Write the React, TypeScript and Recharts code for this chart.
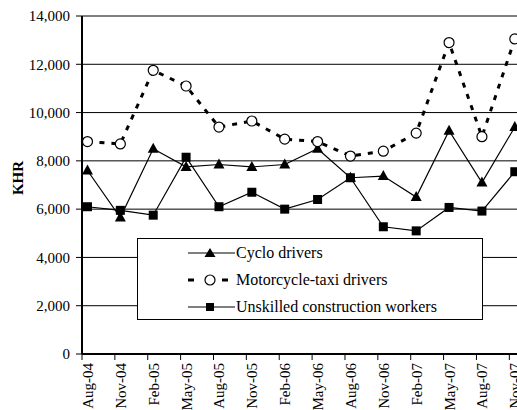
import { LineChart, Line, XAxis, YAxis, CartesianGrid, Legend } from "recharts";

const periods = [
  "Aug-04", "Nov-04", "Feb-05", "May-05", "Aug-05", "Nov-05", "Feb-06",
  "May-06", "Aug-06", "Nov-06", "Feb-07", "May-07", "Aug-07", "Nov-07",
];
const cyclo = [7600, 5650, 8500, 7750, 7850, 7750, 7850, 8500, 7300, 7370, 6500, 9250, 7100, 9400];
const motoTaxi = [8800, 8700, 11750, 11100, 9400, 9650, 8900, 8800, 8200, 8400, 9150, 12900, 9000, 13050];
const construction = [6100, 5950, 5750, 8150, 6100, 6700, 6000, 6400, 7300, 5270, 5100, 6070, 5920, 7550];
const yTicks = [0, 2000, 4000, 6000, 8000, 10000, 12000, 14000];

// months since Aug-04; surveys taken mid-month
const monthTicks = periods.map((_, i) => i * 3);
const data = periods.map((p, i) => ({
  period: p,
  m: i * 3 + 0.5,
  cyclo: cyclo[i],
  moto: motoTaxi[i],
  construction: construction[i],
}));

const serif = "'Liberation Serif', 'Times New Roman', serif";

const TriangleDot = (p: any) => (
  <path
    key={`t-${p.index}`}
    d={`M${p.cx},${p.cy - 6} L${p.cx + 5.5},${p.cy + 4} L${p.cx - 5.5},${p.cy + 4} Z`}
    fill="#000"
  />
);

const SquareDot = (p: any) => (
  <rect key={`s-${p.index}`} x={p.cx - 4.5} y={p.cy - 4.5} width={9} height={9} fill="#000" />
);

const CircleDot = (p: any) => (
  <circle key={`c-${p.index}`} cx={p.cx} cy={p.cy} r={5} fill="#fff" stroke="#000" strokeWidth={1.2} />
);

const MonthTick = ({ x, y, payload }: any) => (
  <text
    x={0}
    y={0}
    transform={`translate(${x + 11},${y + 1}) rotate(-90)`}
    textAnchor="end"
    fontSize={15}
    fontFamily={serif}
    fill="#000"
  >
    {periods[payload.value / 3]}
  </text>
);

const legendRows = [
  { label: "Cyclo drivers", kind: "tri" },
  { label: "Motorcycle-taxi drivers", kind: "circle" },
  { label: "Unskilled construction workers", kind: "square" },
];

const LegendIcon = ({ kind }: { kind: string }) => (
  <svg width={48} height={14} style={{ display: "block" }}>
    {kind === "circle" ? (
      <>
        <rect x={0} y={5.5} width={6} height={3} fill="#000" />
        <rect x={34} y={5.5} width={6} height={3} fill="#000" />
        <circle cx={22} cy={7} r={5} fill="#fff" stroke="#000" strokeWidth={1.2} />
      </>
    ) : (
      <>
        <line x1={0} y1={7} x2={47} y2={7} stroke="#000" strokeWidth={1.2} />
        {kind === "tri" ? (
          <path d="M22,2 L27.5,11 L16.5,11 Z" fill="#000" />
        ) : (
          <rect x={18} y={3} width={8} height={8} fill="#000" />
        )}
      </>
    )}
  </svg>
);

const LegendBox = () => (
  <div
    style={{
      boxSizing: "border-box",
      width: 346,
      height: 82,
      border: "1px solid #000",
      background: "#fff",
      paddingLeft: 50,
      fontFamily: serif,
      fontSize: 16,
      color: "#000",
    }}
  >
    {legendRows.map((r) => (
      <div key={r.label} style={{ display: "flex", alignItems: "center", height: 27.3 }}>
        <LegendIcon kind={r.kind} />
        <span>{r.label}</span>
      </div>
    ))}
  </div>
);

export default function App() {
  return (
    <div style={{ position: "absolute", left: 0, top: 0, width: 517, height: 410, background: "#fff" }}>
      <LineChart width={517} height={410} data={data} margin={{ top: 16, right: 0, bottom: 0, left: 0 }}>
        <CartesianGrid vertical={false} stroke="#000" strokeWidth={1} />
        <XAxis
          type="number"
          dataKey="m"
          domain={[0, 39.7]}
          ticks={monthTicks}
          allowDataOverflow
          height={56}
          tickSize={6}
          axisLine={{ stroke: "#000", strokeWidth: 2 }}
          tickLine={{ stroke: "#000" }}
          tick={<MonthTick />}
          interval={0}
        />
        <YAxis
          domain={[0, 14000]}
          ticks={yTicks}
          width={82}
          tickSize={6}
          tickMargin={6}
          axisLine={{ stroke: "#000", strokeWidth: 2 }}
          tickLine={{ stroke: "#000" }}
          tick={{ fill: "#000", fontSize: 15, fontFamily: serif }}
          tickFormatter={(v: number) => v.toLocaleString("en-US")}
        />
        <Legend
          layout="vertical"
          align="center"
          verticalAlign="middle"
          wrapperStyle={{ left: 137, top: 238, width: 346, height: 82 }}
          content={() => <LegendBox />}
        />
        <Line
          dataKey="cyclo"
          stroke="#000"
          strokeWidth={1.2}
          dot={TriangleDot}
          isAnimationActive={false}
        />
        <Line
          dataKey="moto"
          stroke="#000"
          strokeWidth={3}
          strokeDasharray="5 7"
          dot={CircleDot}
          isAnimationActive={false}
        />
        <Line
          dataKey="construction"
          stroke="#000"
          strokeWidth={1.2}
          dot={SquareDot}
          isAnimationActive={false}
        />
      </LineChart>
      <div
        style={{
          position: "absolute",
          left: 18,
          top: 178,
          transform: "translate(-50%, -50%) rotate(-90deg)",
          fontFamily: serif,
          fontSize: 15,
          fontWeight: "bold",
          color: "#000",
        }}
      >
        KHR
      </div>
    </div>
  );
}
